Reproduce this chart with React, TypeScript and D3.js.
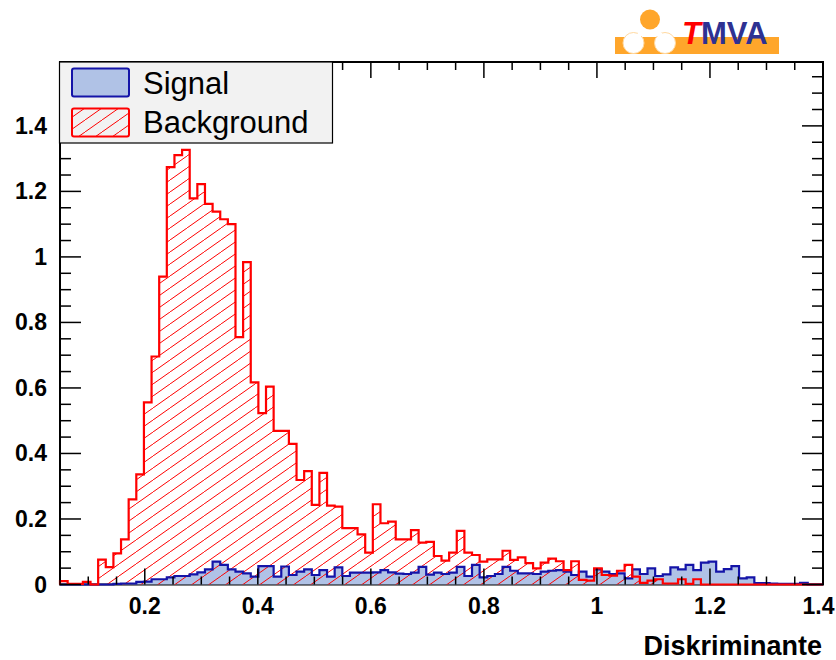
import React from "react";
import * as d3 from "d3";

// ---- data (100 bins between X_MIN and X_MAX) ----
const X_MIN = 0.05;
const X_MAX = 1.4;
const Y_MAX = 1.595;

const signalValues = [
  0, 0, 0, 0, 0, 0, 0, 0.002, 0.003, 0.003,
  0.008, 0.009, 0.016, 0.016, 0.022, 0.026, 0.026, 0.031, 0.037, 0.046,
  0.07, 0.06, 0.046, 0.039, 0.034, 0.024, 0.056, 0.056, 0.024, 0.055,
  0.029, 0.039, 0.046, 0.029, 0.044, 0.024, 0.052, 0.026, 0.036, 0.036,
  0.036, 0.037, 0.044, 0.037, 0.033, 0.032, 0.036, 0.054, 0.03, 0.036,
  0.032, 0.036, 0.054, 0.026, 0.06, 0.022, 0.026, 0.032, 0.054, 0.042,
  0.034, 0.034, 0.032, 0.039, 0.042, 0.044, 0.039, 0.029, 0.039, 0.024,
  0.046, 0.039, 0.032, 0.034, 0.019, 0.046, 0.032, 0.049, 0.026, 0.031,
  0.052, 0.046, 0.06, 0.044, 0.067, 0.07, 0.039, 0.047, 0.056, 0.019,
  0.022, 0.004, 0.004, 0.003, 0.002, 0.002, 0.002, 0.005, 0, 0,
];

const backgroundValues = [
  0.01, 0.002, 0.002, 0.008, 0, 0.076, 0.053, 0.095, 0.138, 0.26,
  0.336, 0.556, 0.696, 0.94, 1.274, 1.311, 1.327, 1.179, 1.222, 1.162,
  1.138, 1.115, 1.1, 0.755, 0.984, 0.617, 0.523, 0.604, 0.469, 0.469,
  0.429, 0.319, 0.346, 0.243, 0.341, 0.241, 0.238, 0.172, 0.172, 0.153,
  0.097, 0.245, 0.187, 0.192, 0.138, 0.138, 0.166, 0.128, 0.13, 0.087,
  0.073, 0.097, 0.164, 0.097, 0.09, 0.07, 0.077, 0.077, 0.103, 0.075,
  0.083, 0.065, 0.049, 0.067, 0.079, 0.071, 0.044, 0.071, 0.014, 0.012,
  0.049, 0.029, 0.027, 0.042, 0.06, 0.024, 0.005, 0.012, 0.016, 0.003,
  0.003, 0.016, 0.002, 0.016, 0, 0, 0, 0, 0, 0,
  0, 0, 0, 0, 0, 0, 0, 0, 0, 0,
];

const xTickValues = [0.2, 0.4, 0.6, 0.8, 1.0, 1.2, 1.4];
const xTickLabels = ["0.2", "0.4", "0.6", "0.8", "1", "1.2", "1.4"];
const yTickValues = [0, 0.2, 0.4, 0.6, 0.8, 1.0, 1.2, 1.4];
const yTickLabels = ["0", "0.2", "0.4", "0.6", "0.8", "1", "1.2", "1.4"];
const legendLabels = ["Signal", "Background"];
const xTitle = "Diskriminante";

// ---- layout ----
const W = 836;
const H = 660;
const L = 60;
const R = 823;
const T = 62;
const B = 584.5;

const SIG_FILL = "#b0c2e6";
const SIG_LINE = "#1414a8";
const BKG_LINE = "#ff0000";
const FONT = "'Liberation Sans', Arial, Helvetica, sans-serif";
const TICK_FS = 23;

export default function App() {
  const x = d3.scaleLinear().domain([X_MIN, X_MAX]).range([L, R]);
  const y = d3.scaleLinear().domain([0, Y_MAX]).range([B, T]);
  const n = signalValues.length;
  const binW = (X_MAX - X_MIN) / n;

  const stepPoints = (vals: number[]): [number, number][] => {
    const pts: [number, number][] = [[X_MIN, 0]];
    vals.forEach((v, i) => pts.push([X_MIN + i * binW, v]));
    pts.push([X_MAX, vals[vals.length - 1]]);
    pts.push([X_MAX, 0]);
    return pts;
  };

  const line = d3
    .line<[number, number]>()
    .x((d) => x(d[0]))
    .y((d) => y(d[1]))
    .curve(d3.curveStepAfter);
  const area = d3
    .area<[number, number]>()
    .x((d) => x(d[0]))
    .y0(y(0))
    .y1((d) => y(d[1]))
    .curve(d3.curveStepAfter);

  const sigPts = stepPoints(signalValues);
  const bkgPts = stepPoints(backgroundValues);

  const xMinor = d3.range(0, 29).map((i) => +(0.05 + i * 0.05).toFixed(3)).filter((v) => v <= X_MAX + 1e-9);
  const yMinor = d3.range(0, 32).map((i) => +(i * 0.05).toFixed(3)).filter((v) => v <= Y_MAX);
  const isMajor = (v: number) => Math.abs(v / 0.2 - Math.round(v / 0.2)) < 1e-6;

  // approximate label width for bold digits, to keep the last label inside the page
  const labelWidth = (s: string) =>
    s.split("").reduce((acc, c) => acc + (c === "." ? 0.278 : 0.556), 0) * TICK_FS;

  const hw = 17;
  const hh = 12;

  return (
    <svg
      width={W}
      height={H}
      viewBox={`0 0 ${W} ${H}`}
      style={{ position: "absolute", left: 0, top: 0, background: "#fff" }}
    >
      <defs>
        <pattern id="hatch" patternUnits="userSpaceOnUse" width={hw} height={hh}>
          <path
            d={`M0,${hh} L${hw},0 M${-hw},${hh} L0,0 M${hw},${hh} L${2 * hw},0`}
            stroke={BKG_LINE}
            strokeWidth={1}
            fill="none"
          />
        </pattern>
      </defs>
      <rect x={0} y={0} width={W} height={H} fill="#fff" />

      {/* TMVA logo */}
      <g>
        <rect x={615} y={37} width={164} height={17} fill="#ffa62b" />
        <circle cx={650} cy={19.5} r={10} fill="#ffa62b" />
        <circle cx={633.5} cy={43} r={10.5} fill="#fff" stroke="#ffd9a0" strokeWidth={1} />
        <circle cx={665} cy={43} r={10.5} fill="#fff" stroke="#ffd9a0" strokeWidth={1} />
        <rect x={638} y={33} width={24} height={3} fill="#fff" />
        <text x={682} y={44} fontFamily={FONT} fontWeight="bold" fontSize={31}>
          <tspan fill="#ff0000" fontStyle="italic">T</tspan>
          <tspan fill="#2e3192">MVA</tspan>
        </text>
      </g>

      {/* frame */}
      <rect x={L} y={T} width={R - L} height={B - T} fill="none" stroke="#000" strokeWidth={2} />

      {/* histograms */}
      <path d={area(sigPts) || ""} fill={SIG_FILL} stroke="none" />
      <path d={area(bkgPts) || ""} fill="url(#hatch)" stroke="none" />
      <path d={line(sigPts) || ""} fill="none" stroke={SIG_LINE} strokeWidth={2.2} />
      <path d={line(bkgPts) || ""} fill="none" stroke={BKG_LINE} strokeWidth={2.2} />

      {/* x ticks */}
      {xMinor.map((v, i) => {
        const len = isMajor(v) ? 16 : 8;
        return (
          <g key={"xt" + i}>
            <line x1={x(v)} x2={x(v)} y1={B} y2={B - len} stroke="#000" strokeWidth={1.5} />
            <line x1={x(v)} x2={x(v)} y1={T} y2={T + len} stroke="#000" strokeWidth={1.5} />
          </g>
        );
      })}
      {/* y ticks */}
      {yMinor.map((v, i) => {
        const len = isMajor(v) ? 21 : 11;
        return (
          <g key={"yt" + i}>
            <line x1={L} x2={L + len} y1={y(v)} y2={y(v)} stroke="#000" strokeWidth={1.5} />
            <line x1={R} x2={R - len} y1={y(v)} y2={y(v)} stroke="#000" strokeWidth={1.5} />
          </g>
        );
      })}

      {/* tick labels */}
      {xTickValues.map((v, i) => {
        const w = labelWidth(xTickLabels[i]);
        const cx = Math.min(x(v), W - 1.5 - w / 2);
        return (
          <text
            key={"xl" + i}
            x={cx}
            y={614}
            textAnchor="middle"
            fontFamily={FONT}
            fontWeight="bold"
            fontSize={TICK_FS}
            fill="#000"
          >
            {xTickLabels[i]}
          </text>
        );
      })}
      {yTickValues.map((v, i) => (
        <text
          key={"yl" + i}
          x={47}
          y={y(v) + 8}
          textAnchor="end"
          fontFamily={FONT}
          fontWeight="bold"
          fontSize={TICK_FS}
          fill="#000"
        >
          {yTickLabels[i]}
        </text>
      ))}
      <text x={822} y={655} textAnchor="end" fontFamily={FONT} fontWeight="bold" fontSize={27} fill="#000">
        {xTitle}
      </text>

      {/* legend */}
      <g>
        <rect x={59.5} y={62} width={273} height={81} fill="#f2f2f2" stroke="#000" strokeWidth={1.2} />
        <rect x={72} y={68.5} width={57} height={28} rx={2} fill={SIG_FILL} stroke={SIG_LINE} strokeWidth={2} />
        <rect x={72} y={108.5} width={57} height={28} rx={2} fill="#f2f2f2" stroke="none" />
        <rect x={72} y={108.5} width={57} height={28} rx={2} fill="url(#hatch)" stroke={BKG_LINE} strokeWidth={2} />
        <text x={143} y={93.5} fontFamily={FONT} fontSize={31} fill="#000">
          {legendLabels[0]}
        </text>
        <text x={143} y={132.5} fontFamily={FONT} fontSize={31} fill="#000">
          {legendLabels[1]}
        </text>
      </g>
    </svg>
  );
}
